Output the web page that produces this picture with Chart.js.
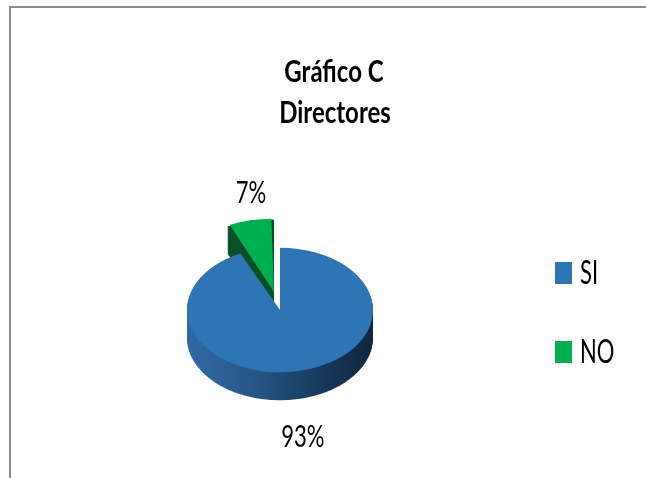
<!DOCTYPE html>
<html><head><meta charset="utf-8">
<script src="https://cdn.jsdelivr.net/npm/chart.js@4/dist/chart.umd.min.js"></script>
<style>
html,body{margin:0;padding:0;background:#fff;}
#wrap{position:relative;width:646px;height:478px;overflow:hidden;}
#frame{position:absolute;left:9px;top:6px;width:700px;height:600px;border-top:2px solid #8c8c8c;border-left:2px solid #8c8c8c;pointer-events:none;}
canvas{position:absolute;left:0;top:0;}
</style></head><body>
<div id="wrap"><canvas id="c" width="646" height="478"></canvas><div id="frame"></div></div>
<script>
// ---- data ----
const titleLines = ['Gráfico C', 'Directores'];
const categories = ['SI', 'NO'];
const values = [93, 7];
const percentLabels = ['93%', '7%'];
const topColors = ['#2e75b6', '#00b050'];
const sliceOffsets = [0, 112];

// ---- 3D look ----
const K = 0.67;      // vertical squash of the pie
const DEPTH = 28;    // side thickness in px
const FONT = 'Lato, "Open Sans", sans-serif';

function arcGeom(el) {
  const p = el.getProps(['x','y','startAngle','endAngle','outerRadius','circumference'], true);
  const off = (el.options.offset || 0) / 4;
  const half = (p.startAngle + p.endAngle) / 2;
  const fix = 1 - Math.sin(Math.min(Math.PI, p.circumference || 0));
  return {cx: p.x + Math.cos(half) * off, cy: p.y + Math.sin(half) * off,
          r: p.outerRadius + off * fix, r0: p.outerRadius,
          start: p.startAngle, end: p.endAngle, half};
}
function wedge(ctx, g, dy) {
  ctx.beginPath();
  ctx.moveTo(g.cx, g.cy + dy);
  ctx.arc(g.cx, g.cy + dy, g.r, g.start, g.end);
  ctx.closePath();
}
function sText(ctx, txt, x, y, font, sx, sy, align) {
  ctx.save();
  ctx.translate(x, y);
  ctx.scale(sx, sy);
  ctx.font = font;
  ctx.textAlign = align || 'center';
  ctx.textBaseline = 'middle';
  ctx.fillStyle = '#000';
  ctx.fillText(txt, 0, 0);
  ctx.restore();
}

const tiltPlugin = {
  id: 'tilt',
  beforeDatasetsDraw(chart) {
    const ctx = chart.ctx;
    const meta = chart.getDatasetMeta(0);
    const cx = meta.data[0].x, cy = meta.data[0].y;
    ctx.save();
    ctx.translate(cx, cy); ctx.scale(1, K); ctx.translate(-cx, -cy);
    const order = [1, 0];
    for (const i of order) {
      const g = arcGeom(meta.data[i]);
      let fill;
      if (i === 0) {
        fill = ctx.createLinearGradient(g.cx - g.r, 0, g.cx + g.r, 0);
        fill.addColorStop(0, '#3169a5');
        fill.addColorStop(0.35, '#275788');
        fill.addColorStop(0.7, '#183a5e');
        fill.addColorStop(1, '#0f2640');
      } else {
        fill = '#0a4f27';
      }
      ctx.fillStyle = fill;
      for (let d = DEPTH; d >= 1; d--) { wedge(ctx, g, d / K); ctx.fill(); }
    }
  },
  afterDatasetsDraw(chart) { chart.ctx.restore(); }
};

const textPlugin = {
  id: 'texts',
  afterDraw(chart) {
    const ctx = chart.ctx;
    // title
    sText(ctx, titleLines[0], 334, 72, 'bold 25px ' + FONT, 0.96, 1.25);
    sText(ctx, titleLines[1], 335, 113, 'bold 25px ' + FONT, 0.96, 1.25);
    // data labels
    const meta = chart.getDatasetMeta(0);
    const cy = meta.data[0].y;
    meta.data.forEach((el, i) => {
      const g = arcGeom(el);
      const dx = Math.cos(g.half), dy = Math.sin(g.half);
      const x = g.cx + dx * (g.r0 + 12);
      const y = cy + (g.cy - cy) * K + dy * (g.r0 * K + 28) + (dy > 0 ? DEPTH : 0) + Math.sign(dy) * 11;
      sText(ctx, percentLabels[i], x, y, '24px ' + FONT, 0.92, 1.3);
    });
    // legend
    const ds = chart.data.datasets[0];
    chart.data.labels.forEach((lab, i) => {
      const top = 262 + i * 79;
      ctx.fillStyle = ds.backgroundColor[i];
      ctx.fillRect(555, top, 17, 22);
      sText(ctx, lab, 580, top + 12, '25px ' + FONT, 0.88, 1.3, 'left');
    });
  }
};

new Chart(document.getElementById('c'), {
  type: 'pie',
  data: {
    labels: categories,
    datasets: [{
      data: values,
      backgroundColor: topColors,
      borderWidth: 0,
      offset: sliceOffsets
    }]
  },
  options: {
    responsive: false,
    devicePixelRatio: 1,
    animation: false,
    radius: 93,
    layout: {padding: {left: 0, right: 86, top: 142, bottom: 0}},
    plugins: {legend: {display: false}, title: {display: false}, tooltip: {enabled: false}}
  },
  plugins: [tiltPlugin, textPlugin]
});
</script>
</body></html>
